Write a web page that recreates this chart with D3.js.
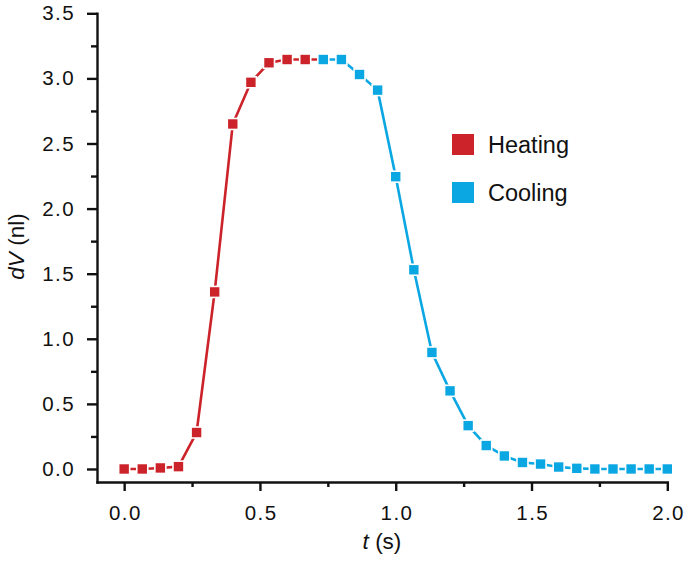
<!DOCTYPE html>
<html>
<head>
<meta charset="utf-8">
<script src="https://cdn.jsdelivr.net/npm/d3@7"></script>
<style>
  body { margin: 0; background: #fff; }
  svg { display: block; font-family: "Liberation Sans", Arial, Helvetica, sans-serif; }
</style>
</head>
<body>
<svg id="chart" width="685" height="562"></svg>
<script>
// Data
const heatingT = [0, 0.0667, 0.1333, 0.2, 0.2667, 0.3333, 0.4, 0.4667, 0.5333, 0.6, 0.6667];
const heatingV = [0, 0.0, 0.008, 0.018, 0.28, 1.36, 2.65, 2.97, 3.12, 3.145, 3.145];
const coolingT = [0.7333, 0.8, 0.8667, 0.9333, 1.0, 1.0667, 1.1333, 1.2, 1.2667, 1.3333, 1.4, 1.4667, 1.5333, 1.6, 1.6667, 1.7333, 1.8, 1.8667, 1.9333, 2.0];
const coolingV = [3.145, 3.145, 3.03, 2.91, 2.245, 1.53, 0.895, 0.60, 0.333, 0.18, 0.10, 0.05, 0.038, 0.015, 0.005, 0.0, 0.0, 0.0, 0.0, 0.0];
const xTicks = [0, 0.5, 1.0, 1.5, 2.0];
const xMinor = [0.25, 0.75, 1.25, 1.75];
const yTicks = [0, 0.5, 1.0, 1.5, 2.0, 2.5, 3.0, 3.5];
const yMinor = [0.25, 0.75, 1.25, 1.75, 2.25, 2.75, 3.25];
const seriesNames = ["Heating", "Cooling"];
const colors = ["#cc2229", "#0ba7e2"];

const svg = d3.select("#chart");
const x = d3.scaleLinear().domain([-0.1, 2.0]).range([97, 667.3]);
const y = d3.scaleLinear().domain([-0.1, 3.5]).range([482, 13.3]);

const axisW = 2.4;
const tickFont = 20.5;

// X axis
svg.append("g").attr("class", "xaxis").attr("transform", `translate(0,${y(-0.1)})`)
  .call(d3.axisBottom(x).tickValues(xTicks).tickFormat(d3.format(".1f")).tickSize(9).tickSizeOuter(0).tickPadding(14));
svg.append("g").attr("transform", `translate(0,${y(-0.1)})`)
  .call(d3.axisBottom(x).tickValues(xMinor).tickFormat("").tickSize(5).tickSizeOuter(0))
  .select(".domain").remove();

// Y axis
svg.append("g").attr("class", "yaxis").attr("transform", `translate(${x(-0.1)},0)`)
  .call(d3.axisLeft(y).tickValues(yTicks).tickFormat(d3.format(".1f")).tickSize(10).tickSizeOuter(0).tickPadding(12));
svg.append("g").attr("transform", `translate(${x(-0.1)},0)`)
  .call(d3.axisLeft(y).tickValues(yMinor).tickFormat("").tickSize(6).tickSizeOuter(0))
  .select(".domain").remove();

svg.selectAll(".domain, .tick line").attr("stroke", "#111").attr("stroke-width", axisW);
svg.selectAll(".domain").attr("stroke-linecap", "square");
svg.selectAll(".tick text").attr("font-size", tickFont).attr("fill", "#111")
  .attr("letter-spacing", 1.4)
  .attr("font-family", "'Liberation Sans', Arial, sans-serif");
svg.selectAll(".xaxis .tick text").attr("dx", 0.7);

// Axis labels
const xl = svg.append("text").attr("x", 382).attr("y", 549).attr("text-anchor", "middle")
  .attr("font-size", 22.5).attr("fill", "#111");
xl.append("tspan").attr("font-style", "italic").text("t");
xl.append("tspan").text(" (s)");

const yl = svg.append("text").attr("transform", "translate(24,246.5) rotate(-90)")
  .attr("text-anchor", "middle").attr("font-size", 22.5).attr("fill", "#111");
yl.append("tspan").attr("font-style", "italic").text("dV");
yl.append("tspan").text(" (nl)");

// Series
const series = [
  { name: seriesNames[0], t: heatingT, v: heatingV, color: colors[0] },
  { name: seriesNames[1], t: coolingT, v: coolingV, color: colors[1] }
];

const line = d3.line().x(d => x(d[0])).y(d => y(d[1]));
const ms = 11;

series.forEach((s, i) => {
  const pts = s.t.map((t, j) => [t, s.v[j]]);
  if (i === 0) pts.push([coolingT[0], coolingV[0]]);
  svg.append("path").datum(pts).attr("d", line)
    .attr("fill", "none").attr("stroke", s.color).attr("stroke-width", 2.6)
    .attr("stroke-linejoin", "round");
});

// Markers
series.forEach(s => {
  svg.append("g").selectAll("rect").data(s.t.map((t, j) => [t, s.v[j]])).join("rect")
    .attr("x", d => x(d[0]) - ms / 2).attr("y", d => y(d[1]) - ms / 2)
    .attr("width", ms).attr("height", ms)
    .attr("fill", s.color).attr("stroke", "#fff").attr("stroke-width", 1.6);
});

// Legend
const legend = svg.append("g");
series.forEach((s, i) => {
  const ly = 134 + i * 48;
  legend.append("rect").attr("x", 452).attr("y", ly).attr("width", 22).attr("height", 21).attr("fill", s.color);
  legend.append("text").attr("x", 488).attr("y", ly + 18.6).attr("font-size", 23.5).attr("fill", "#111").text(s.name);
});
</script>
</body>
</html>
